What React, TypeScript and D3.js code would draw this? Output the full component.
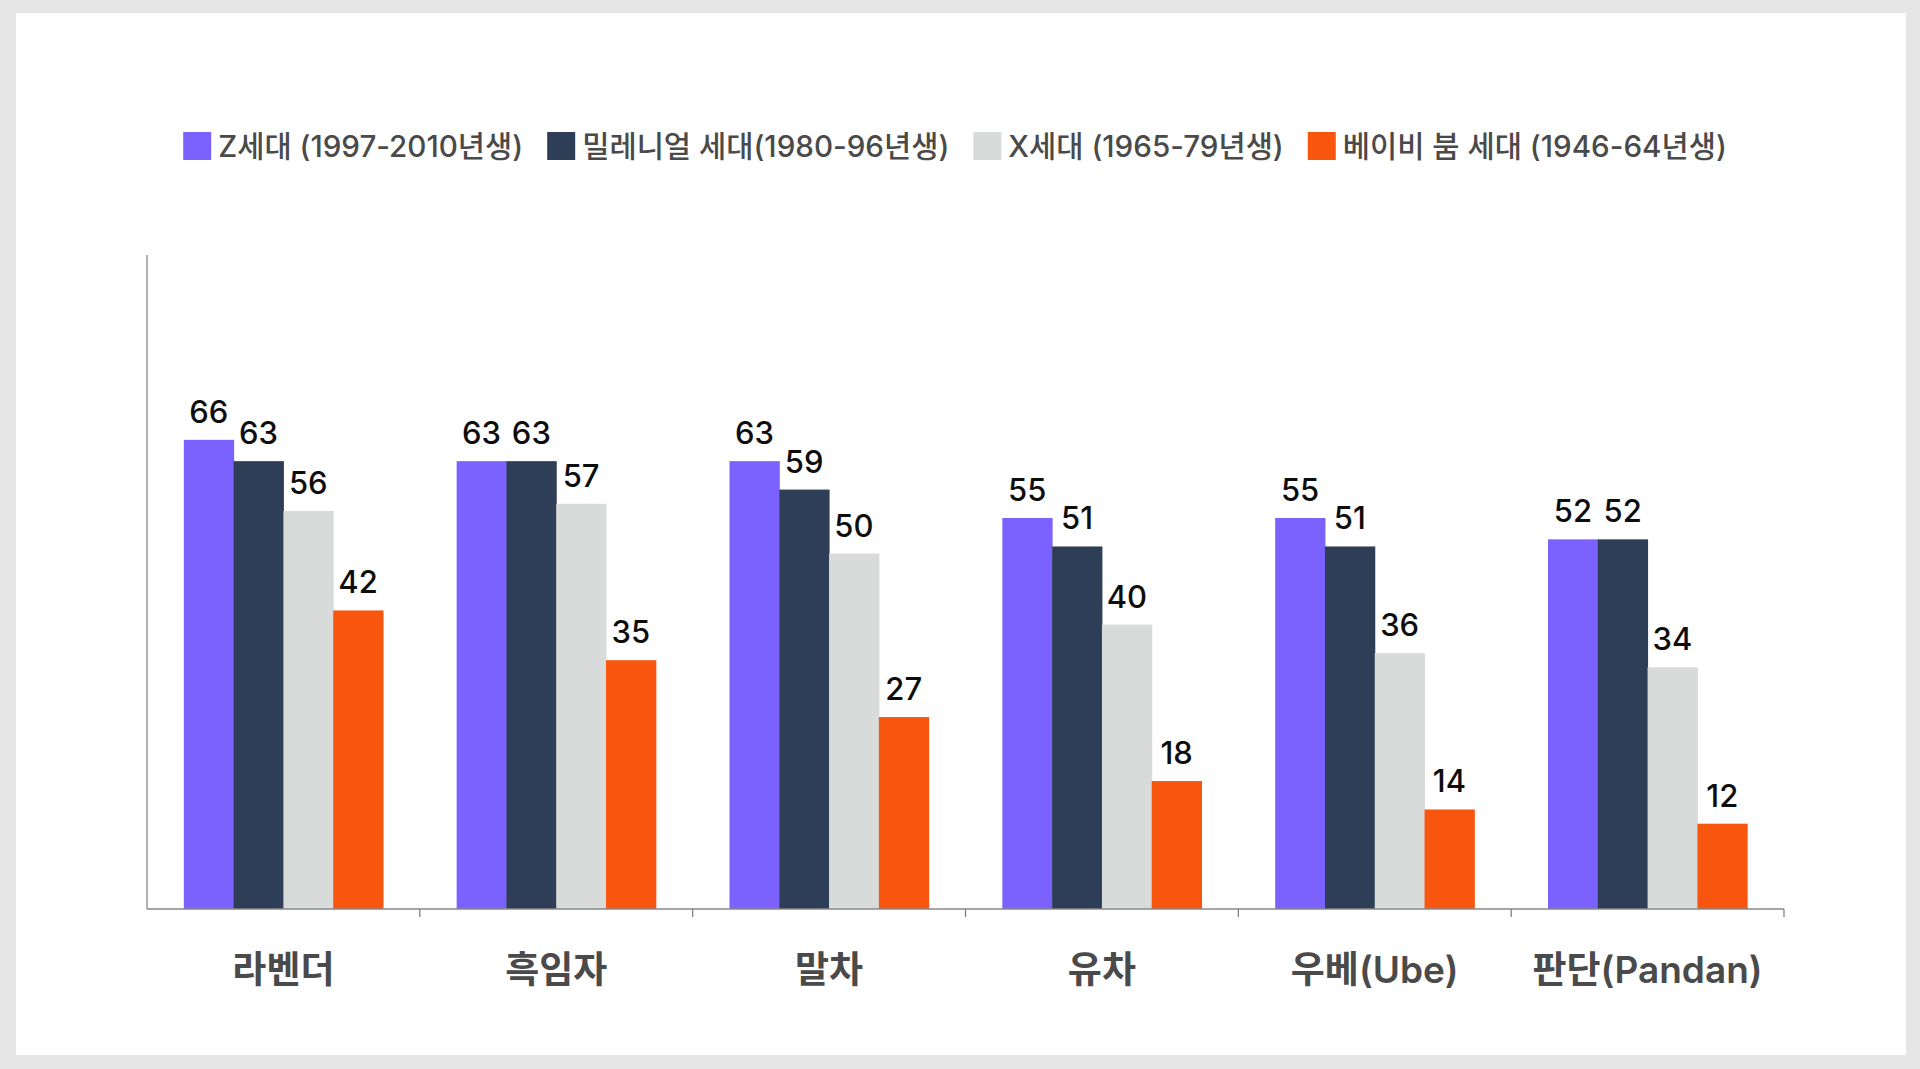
import React, { useEffect, useRef } from 'react'
import * as d3 from 'd3'

// 카테고리(맛)와 세대별 선호도(%)
const categories = ['라벤더', '흑임자', '말차', '유차', '우베(Ube)', '판단(Pandan)']
const genZ = [66, 63, 63, 55, 55, 52]
const millennials = [63, 63, 59, 51, 51, 52]
const genX = [56, 57, 50, 40, 36, 34]
const boomers = [42, 35, 27, 18, 14, 12]

const seriesNames = [
  'Z세대 (1997-2010년생)',
  '밀레니얼 세대(1980-96년생)',
  'X세대 (1965-79년생)',
  '베이비 붐 세대 (1946-64년생)',
]
const seriesColors = ['#7B61FD', '#2E3E56', '#D9DADA', '#F8560F']

const W = 1920
const H = 1069
const FONT = "Inter, 'Noto Sans CJK KR', sans-serif"

export default function App() {
  const ref = useRef<SVGSVGElement>(null)

  useEffect(() => {
    const svg = d3.select(ref.current)
    svg.selectAll('*').remove()

    // 바깥 회색 테두리 + 흰 패널
    svg.append('rect').attr('width', W).attr('height', H).attr('fill', '#E6E6E6')
    svg.append('rect').attr('x', 16).attr('y', 13).attr('width', 1890).attr('height', 1042).attr('fill', '#fff')

    const series = [genZ, millennials, genX, boomers]
    const margin = { left: 147, right: 1784, top: 255, bottom: 909 }

    const x0 = d3.scaleBand().domain(categories).range([margin.left, margin.right])
      .paddingInner(0.27).paddingOuter(0.135)
    const x1 = d3.scaleBand().domain(d3.range(series.length).map(String)).range([0, x0.bandwidth()])
    const y = d3.scaleLinear().domain([0, 92]).range([margin.bottom, margin.top])

    // 막대
    const groups = svg.append('g').selectAll('g').data(categories).join('g')
      .attr('transform', c => `translate(${x0(c)},0)`)

    groups.each(function (c, ci) {
      const g = d3.select(this)
      const vals = series.map((s, si) => ({ si, v: s[ci] }))
      g.selectAll('rect').data(vals).join('rect')
        .attr('x', d => x1(String(d.si))!)
        .attr('y', d => y(d.v))
        .attr('width', x1.bandwidth() + 0.5)
        .attr('height', d => y(0) - y(d.v))
        .attr('fill', d => seriesColors[d.si])
      g.selectAll('text').data(vals).join('text')
        .attr('x', d => x1(String(d.si))! + x1.bandwidth() / 2)
        .attr('y', d => y(d.v) - 17)
        .attr('text-anchor', 'middle')
        .attr('font-family', FONT)
        .attr('font-size', 31)
        .attr('font-weight', 500)
        .attr('fill', '#0d0d0d')
        .text(d => d.v)
    })

    // 축
    svg.append('line')
      .attr('x1', margin.left).attr('x2', margin.left)
      .attr('y1', margin.top).attr('y2', margin.bottom)
      .attr('stroke', '#999').attr('stroke-width', 1.5)
    svg.append('line')
      .attr('x1', margin.left).attr('x2', margin.right)
      .attr('y1', margin.bottom).attr('y2', margin.bottom)
      .attr('stroke', '#888').attr('stroke-width', 1.5)

    const step = x0.step()
    svg.append('g').selectAll('line').data(categories).join('line')
      .attr('x1', c => x0(c)! - x0.paddingOuter() * step + step)
      .attr('x2', c => x0(c)! - x0.paddingOuter() * step + step)
      .attr('y1', margin.bottom).attr('y2', margin.bottom + 8)
      .attr('stroke', '#777').attr('stroke-width', 1.2)

    svg.append('g').selectAll('text').data(categories).join('text')
      .attr('x', c => x0(c)! + x0.bandwidth() / 2)
      .attr('y', 983)
      .attr('text-anchor', 'middle')
      .attr('font-family', FONT)
      .attr('font-size', 37)
      .attr('font-weight', 600)
      .attr('fill', '#4A4A4A')
      .text(c => c)

    // 범례
    const legend = svg.append('g')
    let lx = 0
    seriesNames.forEach((name, i) => {
      const item = legend.append('g').attr('transform', `translate(${lx},0)`)
      item.append('rect').attr('x', 0).attr('y', 132).attr('width', 28).attr('height', 28)
        .attr('fill', seriesColors[i])
      const t = item.append('text')
        .attr('x', 35).attr('y', 157)
        .attr('font-family', FONT)
        .attr('font-size', 29.6)
        .attr('font-weight', 500)
        .attr('fill', '#4A4A4A')
        .text(name)
      const tw = (t.node() as SVGTextElement).getComputedTextLength()
      lx += 35 + tw + 24
    })
    const totalW = lx - 24
    legend.attr('transform', `translate(${955 - totalW / 2},0)`)
  }, [])

  return (
    <div style={{ position: 'fixed', left: 0, top: 0, width: W, height: H }}>
      <svg ref={ref} width={W} height={H} style={{ display: 'block' }} />
    </div>
  )
}
